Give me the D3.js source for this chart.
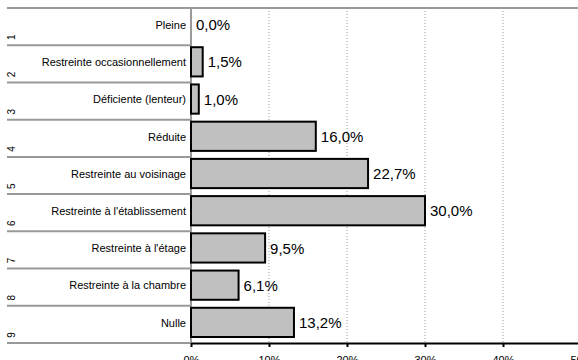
<!DOCTYPE html>
<html><head><meta charset="utf-8">
<script src="https://cdn.jsdelivr.net/npm/d3@7"></script>
<style>body{margin:0;background:#fff;overflow:hidden}svg{display:block;font-family:"Liberation Sans",Arial,sans-serif}</style>
</head><body>
<script>
const categories = ["Pleine","Restreinte occasionnellement","Déficiente (lenteur)","Réduite","Restreinte au voisinage","Restreinte à l'établissement","Restreinte à l'étage","Restreinte à la chambre","Nulle"];
const rowNumbers = ["1","2","3","4","5","6","7","8","9"];
const values = [0.0, 1.5, 1.0, 16.0, 22.7, 30.0, 9.5, 6.1, 13.2];
const tickValues = [0, 10, 20, 30, 40, 50];

(function () {
const W = 578, H = 360;
const svg = d3.select("body").append("svg").attr("width", W).attr("height", H);
const pLeft = 191, pTop = 8, pBottom = 343, labelLeft = 7;
const x = d3.scaleLinear().domain([0, 50]).range([pLeft, 581]);
const y = d3.scaleBand().domain(categories).range([pTop, pBottom]);

// gridlines
svg.append("g").selectAll("line").data(tickValues.filter(d => d > 0)).join("line")
  .attr("x1", d => x(d)).attr("x2", d => x(d)).attr("y1", pTop).attr("y2", pBottom)
  .attr("stroke", "#999").attr("stroke-width", 1).attr("stroke-dasharray", "1,2");

// top border
svg.append("line").attr("x1", labelLeft).attr("x2", W).attr("y1", pTop).attr("y2", pTop)
  .attr("stroke", "#999").attr("stroke-width", 2);

// row separators in label area
svg.append("g").selectAll("line").data(categories.slice(1)).join("line")
  .attr("x1", labelLeft).attr("x2", pLeft).attr("y1", d => y(d)).attr("y2", d => y(d))
  .attr("stroke", "#999").attr("stroke-width", 2);
svg.append("line").attr("x1", labelLeft).attr("x2", pLeft).attr("y1", pBottom).attr("y2", pBottom)
  .attr("stroke", "#999").attr("stroke-width", 2);

// y axis line
svg.append("line").attr("x1", pLeft).attr("x2", pLeft).attr("y1", pTop).attr("y2", pBottom)
  .attr("stroke", "#999").attr("stroke-width", 2);

// bars
const bh = y.bandwidth();
svg.append("g").selectAll("rect").data(values.map((v, i) => ({v, c: categories[i]})).filter(d => d.v > 0)).join("rect")
  .attr("x", x(0)).attr("y", d => y(d.c) + 2)
  .attr("width", d => x(d.v) - x(0)).attr("height", bh - 8)
  .attr("fill", "#c0c0c0").attr("stroke", "#000").attr("stroke-width", 2);

// value labels
svg.append("g").selectAll("text").data(values.map((v, i) => ({v, c: categories[i]}))).join("text")
  .attr("x", d => x(d.v) + 5).attr("y", d => y(d.c) + 17).attr("dy", "0.35em")
  .attr("font-size", 15).attr("fill", "#000")
  .text(d => d.v.toFixed(1).replace(".", ",") + "%");

// category labels
svg.append("g").selectAll("text").data(categories).join("text")
  .attr("x", pLeft - 5).attr("y", d => y(d) + 17).attr("dy", "0.35em")
  .attr("text-anchor", "end").attr("font-size", 11).attr("fill", "#000")
  .text(d => d);

// row numbers, rotated
svg.append("g").selectAll("text").data(categories).join("text")
  .attr("transform", (d, i) => `translate(${labelLeft + 4},${y(d) + bh - 8}) rotate(-90)`)
  .attr("text-anchor", "middle").attr("dy", "0.35em").attr("font-size", 10).attr("fill", "#000")
  .text((d, i) => rowNumbers[i]);

// x axis
const ax = svg.append("g").attr("transform", `translate(0,${pBottom})`)
  .call(d3.axisBottom(x).tickValues(tickValues).tickFormat(d => d + "%").tickSize(4).tickPadding(9).tickSizeOuter(0));
ax.select(".domain").attr("stroke", "#000").attr("stroke-width", 2);
ax.selectAll(".tick line").attr("stroke", "#000").attr("stroke-width", 2);
ax.selectAll("text").attr("font-size", 11).attr("font-family", "Liberation Sans, Arial, sans-serif").attr("fill", "#000");
})();
</script>
</body></html>
